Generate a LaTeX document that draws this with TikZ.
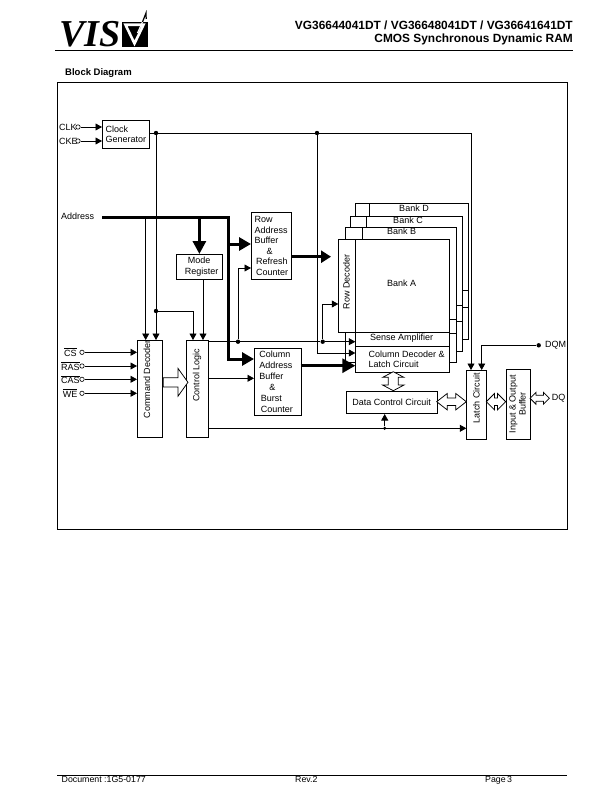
\documentclass[tikz,border=0pt]{standalone}
\usepackage{fontspec}
\setmainfont{Liberation Sans}
\newfontfamily\logofont{Liberation Serif}
\usetikzlibrary{arrows.meta, shapes.arrows}

\begin{document}
\begin{tikzpicture}[x=1bp, y=-1bp]

\tikzset{blockbox/.style = {shape=rectangle,draw,fill=white,anchor=north west,inner sep=0pt,align=left,line width=0.75bp}}
\tikzset{blocktext/.style = {font=\fontsize{9bp}{10.2bp}\selectfont,inner sep=0pt}}
\tikzset{footertext/.style = {font=\fontsize{8.8bp}{10bp}\selectfont,inner sep=0pt,anchor=base west}}
\tikzset{edge/.style = {line width=0.75bp,-{Triangle[length=6.5bp,width=7bp]}}}
\tikzset{busedge/.style = {line width=3bp,-{Triangle[length=12bp,width=13bp]}}}
\tikzset{junction/.style = {shape=circle,fill,inner sep=0pt,minimum size=4.4bp}}
\tikzset{pin/.style = {shape=circle,draw,fill=white,inner sep=0pt,minimum size=4.4bp,line width=0.6bp}}
\tikzset{wideedge/.style = {shape=double arrow,draw,fill=white,inner sep=3.3bp,double arrow head extend=4.5bp,double arrow tip angle=90,minimum width=15bp,line width=0.75bp}}
\useasboundingbox (0,0) rectangle (612,792);

%header
\node[anchor=base west,inner sep=0pt,font=\logofont\bfseries\itshape\fontsize{38bp}{38bp}\selectfont] (logo) at (59,46.5) {VIS};
\fill (121.5,21.7) rectangle (147.7,47.3);
\draw[white,line width=2.6bp,miter limit=10] (125.5,24.8) -- (143.5,24.8) -- (134.5,43.5) -- cycle;
\draw[white,line width=1.2bp] (137.5,33) -- (142.5,22);
\draw[line width=1.2bp] (142.5,22) -- (146,13) -- (146.2,19);
\node[anchor=east,inner sep=0pt,font=\bfseries\fontsize{11.9bp}{14bp}\selectfont] (partno) at (573,25) {VG36644041DT / VG36648041DT / VG36641641DT};
\node[anchor=east,inner sep=0pt,font=\bfseries\fontsize{11.9bp}{14bp}\selectfont] (title) at (573,39) {CMOS Synchronous Dynamic RAM};
\draw[line width=1bp] (55,50.3) -- (573,50.3);
\node[anchor=west,inner sep=0pt,font=\bfseries\fontsize{9.5bp}{10bp}\selectfont] (heading) at (65,73) {Block Diagram};
\draw[line width=1bp] (57.5,82) rectangle (567,529);

%banks
\node[blockbox, minimum width=113bp, minimum height=136bp] (bankD) at (355.3,203.3) {};
\node[blockbox, minimum width=112bp, minimum height=134.7bp] (bankC) at (350.3,216.3) {};
\node[blockbox, minimum width=111bp, minimum height=134.4bp] (bankB) at (345.3,227.3) {};
\node[blockbox, minimum width=17bp, minimum height=93bp] (rowdec) at (338.3,239.3) {};
\node[blockbox, minimum width=94bp, minimum height=93bp] (bankA) at (355.3,239.3) {};
\node[blockbox, minimum width=94bp, minimum height=14bp] (sense) at (355.3,332.3) {};
\node[blockbox, minimum width=94bp, minimum height=25.7bp,font=\fontsize{9bp}{10.2bp}\selectfont] (coldec) at (355.3,346.3) {\hspace*{8bp}Column Decoder \&\\\hspace*{8bp}Latch Circuit};
\foreach \x/\ya/\yb in {369.3/203.3/216.3, 366.3/216.3/227.3, 362.3/227.3/239.3}
  \draw[line width=0.75bp] (\x,\ya) -- (\x,\yb);
\foreach \xa/\xb/\y in {449.3/456.3/319.3, 449.3/456.3/333.3, 456.3/462.3/305.3, 456.3/462.3/321.7, 462.3/468.3/290.7, 462.3/468.3/307.7}
  \draw[line width=0.75bp] (\xa,\y) -- (\xb,\y);
\node[blocktext] (labelD) at (414,208.5) {Bank D};
\node[blocktext] (labelC) at (408,220.5) {Bank C};
\node[blocktext] (labelB) at (401.7,231.7) {Bank B};
\node[blocktext] (labelA) at (401.7,283.5) {Bank A};
\node[blocktext, rotate=90] (labelrow) at (346.5,282) {Row Decoder};
\node[blocktext] (labelsense) at (401.7,338) {Sense Amplifier};

%blocks
\node[blockbox, minimum width=47bp, minimum height=28bp,font=\fontsize{9bp}{10.2bp}\selectfont] (clockgen) at (102,120) {Clock\\Generator};
\node[blockbox, minimum width=46bp, minimum height=25bp,font=\fontsize{9bp}{10.6bp}\selectfont] (modereg) at (176,254) {\hspace*{7.4bp}Mode\\\hspace*{4.4bp}Register};
\node[blockbox, minimum width=40bp, minimum height=67bp,font=\fontsize{9bp}{10.5bp}\selectfont] (rowbuf) at (251,212) {Row\\Address\\Buffer\\\hspace*{12bp}\&\\\hspace*{1.7bp}Refresh\\\hspace*{1.7bp}Counter};
\node[blockbox, minimum width=46.7bp, minimum height=67bp,font=\fontsize{9bp}{11bp}\selectfont] (colbuf) at (254,348) {Column\\Address\\Buffer\\\hspace*{10bp}\&\\\hspace*{1.5bp}Burst\\\hspace*{1.5bp}Counter\hspace*{3bp}};
\node[blockbox, minimum width=24.7bp, minimum height=97bp] (cmddec) at (137,340) {};
\node[blockbox, minimum width=22bp, minimum height=97bp] (ctrl) at (186,340) {};
\node[blockbox, minimum width=90.7bp, minimum height=22.6bp,font=\fontsize{9bp}{10.2bp}\selectfont] (datactl) at (346,390.7) {Data Control Circuit};
\node[blockbox, minimum width=20bp, minimum height=69.3bp] (latch) at (466.3,370) {};
\node[blockbox, minimum width=24bp, minimum height=70bp] (iobuf) at (505.7,369.3) {};
\node[blocktext, rotate=90] (labelcmd) at (147,379) {Command Decoder};
\node[blocktext, rotate=90] (labelctrl) at (197,375) {Control Logic};
\node[blocktext, rotate=90] (labellatch) at (476.3,398) {Latch Circuit};
\node[blocktext, rotate=90, align=center] (labeliobuf) at (517.5,404) {Input \& Output\\Buffer};

%pins
\node[blocktext, anchor=west] (clk) at (59,127) {CLK};
\node[blocktext, anchor=west] (cke) at (59,141) {CKE};
\node[blocktext, anchor=west] (address) at (61,216) {Address};
\node[blocktext, anchor=west] (cs) at (64,352) {$\overline{\mbox{CS}}$};
\node[blocktext, anchor=west] (ras) at (61,366) {$\overline{\mbox{RAS}}$};
\node[blocktext, anchor=west] (cas) at (61,379.3) {$\overline{\mbox{CAS}}$};
\node[blocktext, anchor=west] (we) at (62.7,393) {$\overline{\mbox{WE}}$};
\node[blocktext, anchor=west] (dqm) at (545,345) {DQM};
\node[blocktext, anchor=west] (dq) at (551.7,398) {DQ};
\node[pin] (clkpin) at (78,127) {};
\node[pin] (ckepin) at (78,141) {};
\node[pin] (cspin) at (82,352.3) {};
\node[pin] (raspin) at (82,366) {};
\node[pin] (caspin) at (82,379.3) {};
\node[pin] (wepin) at (82,393.3) {};

%junctions
\node[junction] (clkjoin) at (156,133) {};
\node[junction] (clkbank) at (317,133) {};
\node[junction] (clkctrl) at (156,311) {};
\node[junction] (ctlrow) at (238,341.7) {};
\node[junction] (ctlbank) at (322.7,341.7) {};
\node[junction] (dqmpin) at (538.7,345.3) {};
\node[junction, minimum size=3.4bp] (datatap) at (384.7,428.3) {};
\coordinate (clkturn) at (471,133);
\coordinate (coldecclk) at (355.3,353);
\coordinate (rowdecin) at (338.3,304);
\coordinate (rowbufin) at (251,268);
\coordinate (ctrlclk) at (193,340);
\coordinate (ctrlmode) at (203,279);
\coordinate (cmdaddr) at (145.7,217);
\coordinate (addrstart) at (102,217);
\coordinate (addrturn) at (228,217);
\coordinate (colbufin) at (254,359);
\coordinate (rowbusin) at (251,244);
\coordinate (rowbusout) at (291,256.7);
\coordinate (rowbusend) at (331,256.7);
\coordinate (colbusout) at (300.7,365.7);
\coordinate (latchmask) at (481.7,370);

%edges
\draw [edge] (clkpin) -- (clkpin -| clockgen.west);
\draw [edge] (ckepin) -- (ckepin -| clockgen.west);
\draw [line width=0.75bp] (clockgen.east |- clkjoin) -- (clkjoin);
\draw [edge] (clkjoin) -- (clkturn) -- (clkturn |- latch.north);
\draw [edge] (clkjoin) -- (clkjoin |- cmddec.north);
\draw [edge] (clkbank) |- (coldecclk);
\draw [edge] (clkctrl) -| (ctrlclk);
\draw [edge] (cmdaddr) -- (cmdaddr |- cmddec.north);
\draw [edge] (ctrlmode) -- (ctrlmode |- ctrl.north);
\draw [edge] (ctrl.east |- ctlrow) -- (ctlbank) -- (ctlbank -| sense.west);
\draw [edge] (ctlbank) |- (rowdecin);
\draw [edge] (ctlrow) |- (rowbufin);
\draw [edge] (ctrl.east |- 0,378.3) -- (colbuf.west |- 0,378.3);
\draw [edge] (ctrl.east |- datatap) -- (latch.west |- datatap);
\draw [edge] (datatap) -- (datatap |- datactl.south);
\draw [edge] (dqmpin) -| (latchmask);
\foreach \source in {cspin, raspin, caspin, wepin}
  \draw [edge] (\source) -- (\source -| cmddec.west);
%buses
\draw [busedge, miter limit=10] (addrstart) -- (addrturn) -- (addrturn |- colbufin) -- (colbufin);
\draw [busedge] (addrturn |- rowbusin) -- (rowbusin);
\draw [busedge, -{Triangle[length=13bp,width=13bp]}] (modereg.north |- addrstart) -- (modereg.north);
\draw [busedge, -{Triangle[length=10bp,width=12bp]}] (rowbusout) -- (rowbusend);
\draw [busedge, -{Triangle[length=13bp,width=14bp]}] (colbusout) -- (colbusout -| coldec.west);
%wide arrows
\node[shape=single arrow,draw,fill=white,inner sep=4.2bp,minimum height=24.6bp,minimum width=27bp,single arrow head extend=9.3bp,single arrow tip angle=109,line width=0.75bp] (cmdctrl) at (174,382.3) {};
\node[wideedge, minimum height=19bp, minimum width=20.6bp, double arrow head extend=5.6bp, double arrow tip angle=124, inner sep=4.6bp, rotate=90] (coldata) at (393.3,381.2) {};
\node[wideedge, minimum height=29.6bp, double arrow tip angle=76] (datalatch) at (451.5,401.7) {};
\node[wideedge, minimum height=19.4bp] (latchio) at (496,401.7) {};
\node[wideedge, minimum height=19.3bp, minimum width=11.5bp, double arrow head extend=3bp, inner sep=2.6bp] (iodq) at (539.7,398.3) {};

%footer
\draw[line width=1bp] (57,775) -- (567,775);
\node[footertext] (docno) at (61.5,782.7) {Document :1G5-0177};
\node[footertext] (rev) at (295,782.7) {Rev.2};
\node[footertext] (page) at (485,782.7) {Page\hspace{-1bp} 3};

\end{tikzpicture}
\end{document}
